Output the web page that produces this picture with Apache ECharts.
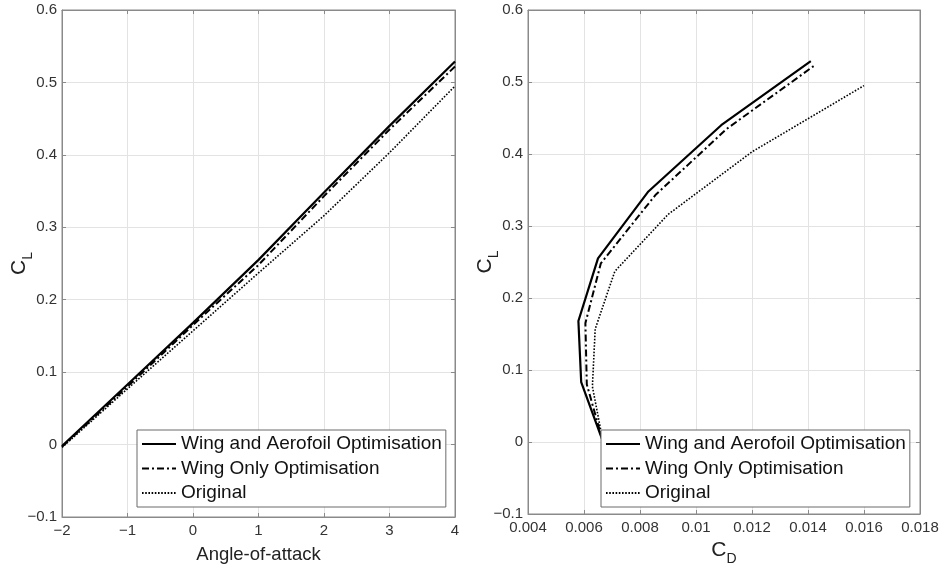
<!DOCTYPE html>
<html><head><meta charset="utf-8">
<script src="https://cdn.jsdelivr.net/npm/echarts@6/dist/echarts.min.js"></script>
<style>html,body{margin:0;padding:0;background:#fff}#c{width:942px;height:571px}</style>
</head><body><div id="c"></div>
<script>
// ---- data ----
const alpha = [-2, -1, 0, 1, 2, 3, 4];
const clWingAero = [-0.002, 0.083, 0.168, 0.255, 0.348, 0.440, 0.529];
const clWingOnly = [-0.003, 0.080, 0.165, 0.248, 0.343, 0.435, 0.522];
const clOriginal = [-0.004, 0.077, 0.157, 0.237, 0.316, 0.403, 0.495];
const cdWingAero = [0.0067, 0.0059, 0.0058, 0.0065, 0.0083, 0.0109, 0.0141];
const cdWingOnly = [0.0067, 0.0061, 0.00605, 0.0066, 0.00855, 0.0111, 0.0142];
const cdOriginal = [0.0067, 0.0063, 0.0064, 0.0071, 0.0090, 0.0120, 0.0160];
const seriesNames = ['Wing and Aerofoil Optimisation', 'Wing Only Optimisation', 'Original'];
const alphaTicks = { min: -2, max: 4, interval: 1 };
const clTicks = { min: -0.1, max: 0.6, interval: 0.1 };
const cdTicks = { min: 0.004, max: 0.018, interval: 0.002 };

// ---- styling ----
const FONT = '"Liberation Sans", Arial, Helvetica, sans-serif';
const frameColor = '#8a8a8a';
const gridColor = '#e3e3e3';
const labelColor = '#333';
const styles = [
  { type: 'solid', width: 2.2 },
  { type: [7, 3, 2, 3], width: 2 },
  { type: [1.6, 1.6], width: 1.6 }
];
const fmt = v => {
  let s = String(+v.toFixed(4));
  return s.replace('-', '\u2212');
};

const grids = [
  { left: 62, top: 10, width: 393, height: 507, show: true, borderColor: frameColor, borderWidth: 1 },
  { left: 528, top: 10, width: 392, height: 507, show: true, borderColor: frameColor, borderWidth: 1 }
];

function mainX(gi, t, name, nameGap, rich) {
  return {
    type: 'value', gridIndex: gi, min: t.min, max: t.max, interval: t.interval,
    position: 'bottom', name: name, nameLocation: 'middle', nameGap: nameGap,
    nameTextStyle: Object.assign({ color: '#222', fontFamily: FONT, fontSize: 18.5 }, rich ? { rich: rich } : {}),
    axisLine: { show: true, onZero: false, lineStyle: { color: frameColor, width: 1 } },
    axisTick: { show: true, inside: true, length: 4, lineStyle: { color: frameColor } },
    axisLabel: { color: labelColor, fontFamily: FONT, fontSize: 15, margin: 6, formatter: fmt, showMinLabel: true, showMaxLabel: true },
    splitLine: { show: true, lineStyle: { color: gridColor, width: 1 } }
  };
}
function mainY(gi, t, name, rich) {
  return {
    type: 'value', gridIndex: gi, min: t.min, max: t.max, interval: t.interval,
    position: 'left', name: name, nameLocation: 'middle', nameGap: 27, nameRotate: 90,
    nameMoveOverlap: false,
    nameTextStyle: { color: '#222', fontFamily: FONT, fontSize: 20, rich: rich },
    axisLine: { show: true, onZero: false, lineStyle: { color: frameColor, width: 1 } },
    axisTick: { show: true, inside: true, length: 4, lineStyle: { color: frameColor } },
    axisLabel: { color: labelColor, fontFamily: FONT, fontSize: 15, margin: 5, formatter: fmt },
    splitLine: { show: true, lineStyle: { color: gridColor, width: 1 } }
  };
}
function mirror(kind, gi, t) {
  return {
    type: 'value', gridIndex: gi, min: t.min, max: t.max, interval: t.interval,
    position: kind === 'x' ? 'top' : 'right',
    axisLine: { show: true, onZero: false, lineStyle: { color: frameColor, width: 1 } },
    axisTick: { show: true, inside: true, length: 4, lineStyle: { color: frameColor } },
    axisLabel: { show: false }, splitLine: { show: false }
  };
}
const subRich = {
  a: { fontSize: 21, fontFamily: FONT, color: '#222', lineHeight: 26, verticalAlign: 'top' },
  b: { fontSize: 14, fontFamily: FONT, color: '#222', lineHeight: 14, verticalAlign: 'top', padding: [12, 0, 0, 0] }
};

const clLists = [clWingAero, clWingOnly, clOriginal];
const cdLists = [cdWingAero, cdWingOnly, cdOriginal];
const series = [];
seriesNames.forEach((n, i) => {
  series.push({
    name: n, type: 'line', xAxisIndex: 0, yAxisIndex: 0, symbol: 'none', silent: true,
    itemStyle: { color: '#000' },
    data: alpha.map((a, k) => [a, clLists[i][k]]),
    lineStyle: { color: '#000', type: styles[i].type, width: styles[i].width }, z: 3 - i
  });
});
seriesNames.forEach((n, i) => {
  series.push({
    name: n, type: 'line', xAxisIndex: 2, yAxisIndex: 2, symbol: 'none', silent: true,
    itemStyle: { color: '#000' },
    data: cdLists[i].map((c, k) => [c, clLists[i][k]]),
    lineStyle: { color: '#000', type: styles[i].type, width: styles[i].width }, z: 3 - i
  });
});

function legend(left, top) {
  return {
    orient: 'vertical', left: left, top: top, data: seriesNames,
    itemWidth: 34, itemHeight: 22, itemGap: 2.5, selectedMode: false,
    itemStyle: { opacity: 0 },
    padding: [3, 4, 3, 4], borderColor: '#6a6a6a', borderWidth: 1, backgroundColor: '#fff',
    textStyle: { color: '#111', fontFamily: FONT, fontSize: 19, lineHeight: 22 }
  };
}

const chart = echarts.init(document.getElementById('c'), null, { renderer: 'canvas' });
chart.setOption({
  animation: false,
  backgroundColor: '#fff',
  grid: grids,
  xAxis: [
    mainX(0, alphaTicks, 'Angle-of-attack', 28),
    mirror('x', 0, alphaTicks),
    mainX(1, cdTicks, '{a|C}{b|D}', 26, subRich),
    mirror('x', 1, cdTicks)
  ],
  yAxis: [
    mainY(0, clTicks, '{a|C}{b|L}', subRich),
    mirror('y', 0, clTicks),
    mainY(1, clTicks, '{a|C}{b|L}', subRich),
    mirror('y', 1, clTicks)
  ],
  legend: [legend(137, 430), legend(601, 430)],
  series: series
});
</script>
</body></html>
